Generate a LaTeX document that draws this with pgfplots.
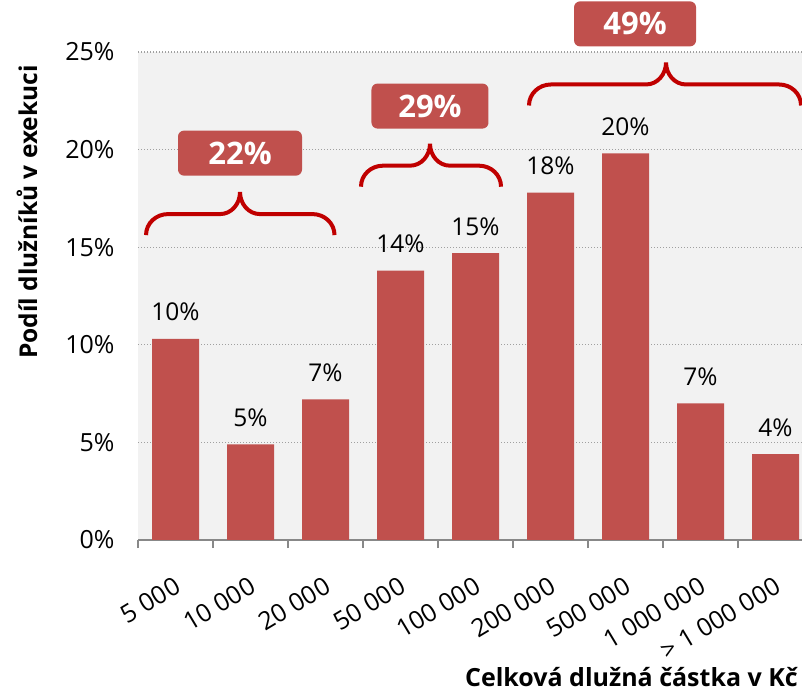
\documentclass[border=0pt]{standalone}
\usepackage{fontspec}
\setmainfont{Open Sans}
\usepackage{pgfplots}
\pgfplotsset{compat=1.18}
\definecolor{barred}{HTML}{C0504D}
\definecolor{bracered}{HTML}{C00000}
\definecolor{bggray}{HTML}{F2F2F2}
\definecolor{gridgray}{HTML}{A0A0A0}
\definecolor{axgray}{HTML}{888888}

\newcommand{\mybrace}[4]{%
 \draw[bracered, line width=4pt] (axis cs:#1,#4) to[out=90,in=180] ++(22pt,21pt)
   -- ([xshift=-20pt,yshift=21pt]axis cs:#2,#4) to[out=0,in=-90] ([yshift=43pt]axis cs:#2,#4)
   to[out=-90,in=180] ([xshift=20pt,yshift=21pt]axis cs:#2,#4)
   -- ([xshift=-22pt,yshift=21pt]axis cs:#3,#4) to[out=0,in=90] (axis cs:#3,#4);}

\begin{document}
\begin{tikzpicture}[x=1pt,y=1pt]
\useasboundingbox (0,0) rectangle (802,690);
\begin{axis}[
  at={(138pt,150pt)}, anchor=south west,
  scale only axis, width=664pt, height=488pt,
  xmin=-0.5, xmax=8.353, ymin=0, ymax=25,
  clip=false,
  ybar, bar width=47pt,
  axis background/.style={fill=bggray},
  axis x line*=bottom, axis y line*=left,
  y axis line style={draw=none},
  x axis line style={axgray, line width=1.5pt},
  xtick={0,...,8},
  xticklabels={5 000,10 000,20 000,50 000,100 000,200 000,500 000,1 000 000,> 1 000 000},
  minor xtick={-0.5,0.5,...,7.5},
  major tick length=0pt, minor tick length=8pt, tick align=outside,
  every minor tick/.style={axgray, line width=1.5pt},
  ytick={0,5,...,25},
  yticklabels={0\%,5\%,10\%,15\%,20\%,25\%},
  ymajorgrids, grid style={gridgray, line width=1.2pt, dash pattern=on 1.3pt off 1.7pt},
  tick label style={font=\fontsize{25}{29}\selectfont},
  yticklabel style={xshift=-20pt},
  xticklabel style={rotate=31, anchor=north east, xshift=-17pt, yshift=-26pt},
  nodes near coords,
  point meta=explicit symbolic,
  every node near coord/.append style={anchor=base, yshift=18pt, font=\fontsize{24.5}{28}\selectfont, black},
]
\addplot[fill=barred, draw=none] coordinates {
 (0,10.3) [10\%]
 (1,4.9) [5\%]
 (2,7.2) [7\%]
 (3,13.8) [14\%]
 (4,14.7) [15\%]
 (5,17.8) [18\%]
 (6,19.8) [20\%]
 (7,7.0) [7\%]
 (8,4.4) [4\%]
};
\mybrace{-0.393}{0.86}{2.12}{15.62}
\mybrace{2.473}{3.393}{4.34}{18.1}
\mybrace{4.713}{6.54}{8.34}{22.26}
\node[fill=barred, rounded corners=6pt, minimum width=124pt, minimum height=45pt, text=white, font=\bfseries\fontsize{31}{34}\selectfont] at (axis cs:0.86,19.82) {22\%};
\node[fill=barred, rounded corners=6pt, minimum width=117pt, minimum height=45pt, text=white, font=\bfseries\fontsize{31}{34}\selectfont] at (axis cs:3.393,22.23) {29\%};
\node[fill=barred, rounded corners=6pt, minimum width=122pt, minimum height=45pt, text=white, font=\bfseries\fontsize{31}{34}\selectfont] at (axis cs:6.127,26.44) {49\%};
\end{axis}
\node[rotate=90, anchor=base, font=\bfseries\fontsize{24.5}{28}\selectfont] at (37,478) {Podíl dlužníků v exekuci};
\node[anchor=base east, font=\bfseries\fontsize{25}{29}\selectfont, inner sep=0pt] at (798,4) {Celková dlužná částka v Kč};
\end{tikzpicture}
\end{document}
